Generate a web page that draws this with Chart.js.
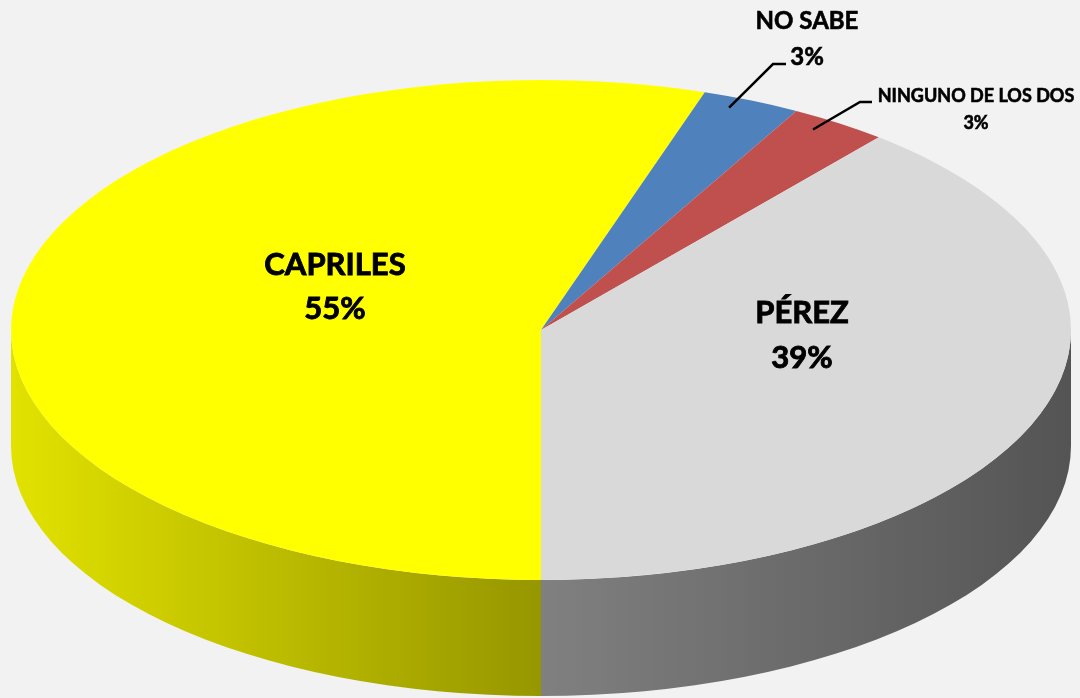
<!DOCTYPE html>
<html lang="es">
<head>
<meta charset="UTF-8">
<title>Encuesta</title>
<script src="https://cdn.jsdelivr.net/npm/chart.js"></script>
<style>
  html, body { margin: 0; padding: 0; background: #f2f2f2; }
  #wrap { width: 1080px; height: 698px; }
</style>
</head>
<body>
<div id="wrap"><canvas id="pie"></canvas></div>
<script>
// data
var labels = ['CAPRILES', 'NO SABE', 'NINGUNO DE LOS DOS', 'PÉREZ'];
var values = [55, 3, 3, 39];
var topColors = ['#ffff00', '#4f81bd', '#c0504d', '#d9d9d9'];
var sideColors = [['#e2e200', '#969600'], ['#3c6390', '#2e4c70'], ['#933d3b', '#7a3230'], ['#808080', '#545454']];

// how the flat pie is laid out as a tilted disc
var CX = 541, CY = 330, RX = 530, RY = 250, DEPTH = 116;

// label spots and leader line bends
var labelSpots = [
  { x: 335, y1: 265, y2: 309, size: 31 },
  { x: 807, y1: 21, y2: 57, size: 24 },
  { x: 976, y1: 96, y2: 123, size: 18 },
  { x: 802, y1: 313, y2: 358, size: 31 }
];
var leaders = [null, [[773, 64], [786, 64]], [[860, 102], [872, 102]], null];

function norm(a) {
  var t = Math.PI * 2;
  a = a % t;
  if (a < 0) a += t;
  return a;
}

var tilt = {
  id: 'tilt',
  beforeDatasetsDraw: function (chart) {
    var ctx = chart.ctx;
    var arcs = chart.getDatasetMeta(0).data;
    var r = arcs[0].outerRadius;

    // side walls, only the front half shows
    arcs.forEach(function (arc, i) {
      var s = arc.startAngle, e = arc.endAngle;
      var base = Math.floor(s / (Math.PI * 2)) * Math.PI * 2;
      [base, base + Math.PI * 2].forEach(function (off) {
        var a = Math.max(s, off), b = Math.min(e, off + Math.PI);
        if (b <= a) return;
        var a0 = a - off, b0 = b - off;
        ctx.save();
        ctx.beginPath();
        ctx.ellipse(CX, CY, RX, RY, 0, a0, b0, false);
        ctx.lineTo(CX + RX * Math.cos(b0), CY + DEPTH + RY * Math.sin(b0));
        ctx.ellipse(CX, CY + DEPTH, RX, RY, 0, b0, a0, true);
        ctx.closePath();
        var x1 = CX + RX * Math.cos(b0), x2 = CX + RX * Math.cos(a0);
        var g = ctx.createLinearGradient(Math.min(x1, x2), 0, Math.max(x1, x2), 0);
        g.addColorStop(0, sideColors[i][0]);
        g.addColorStop(1, sideColors[i][1]);
        ctx.fillStyle = g;
        ctx.fill();
        ctx.restore();
      });
    });

    ctx.save();
    ctx.translate(CX, CY);
    ctx.scale(RX / r, RY / r);
    ctx.translate(-arcs[0].x, -arcs[0].y);
  },
  afterDatasetsDraw: function (chart) {
    chart.ctx.restore();
  },
  afterDraw: function (chart) {
    var ctx = chart.ctx;
    var arcs = chart.getDatasetMeta(0).data;
    ctx.save();
    ctx.fillStyle = '#000';
    ctx.strokeStyle = '#000';
    ctx.textAlign = 'center';
    ctx.textBaseline = 'middle';
    labels.forEach(function (lab, i) {
      var p = labelSpots[i];
      ctx.font = 'bold ' + p.size + 'px Lato, "Open Sans", sans-serif';
      ctx.lineWidth = p.size > 25 ? 0.9 : 0.6;
      ctx.fillText(lab, p.x, p.y1);
      ctx.strokeText(lab, p.x, p.y1);
      ctx.fillText(values[i] + '%', p.x, p.y2);
      ctx.strokeText(values[i] + '%', p.x, p.y2);
      var L = leaders[i];
      if (L) {
        var mid = norm((arcs[i].startAngle + arcs[i].endAngle) / 2);
        var sx = CX + RX * 0.96 * Math.cos(mid), sy = CY + RY * 0.96 * Math.sin(mid);
        ctx.beginPath();
        ctx.moveTo(sx - 14, sy - 2);
        L.forEach(function (pt) { ctx.lineTo(pt[0], pt[1]); });
        ctx.lineWidth = 2.5;
        ctx.stroke();
      }
    });
    ctx.restore();
  }
};

new Chart(document.getElementById('pie'), {
  type: 'pie',
  data: {
    labels: labels,
    datasets: [{
      data: values,
      backgroundColor: topColors,
      borderWidth: 0,
      hoverOffset: 0
    }]
  },
  options: {
    responsive: true,
    maintainAspectRatio: false,
    animation: false,
    rotation: 180,
    events: [],
    plugins: {
      legend: { display: false },
      tooltip: { enabled: false }
    }
  },
  plugins: [tilt]
});
</script>
</body>
</html>
